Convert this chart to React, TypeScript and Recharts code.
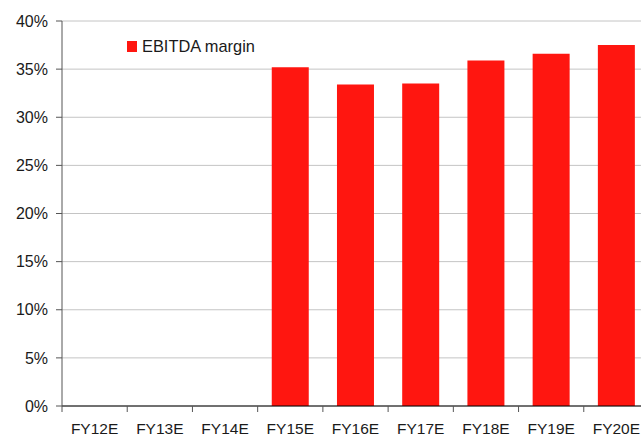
import { BarChart, Bar, XAxis, YAxis, CartesianGrid } from "recharts";

const years = ["FY12E", "FY13E", "FY14E", "FY15E", "FY16E", "FY17E", "FY18E", "FY19E", "FY20E"];
const ebitdaMargin: (number | null)[] = [null, null, null, 35.2, 33.4, 33.5, 35.9, 36.6, 37.5];
const yTicks = [0, 5, 10, 15, 20, 25, 30, 35, 40];

const data = years.map((year, i) => ({ year, margin: ebitdaMargin[i] }));

const FONT = "'Liberation Sans', Arial, sans-serif";
const TEXT = "#1a1a1a";
const RED = "#ff1610";

// x ticks sit at category boundaries, labels at the centre
function XTick(props: any) {
  const { x = 0, y = 0, payload } = props;
  const half = payload?.offset || 32.6;
  const axisY = y - 17;
  return (
    <g>
      <line x1={x - half} x2={x - half} y1={axisY} y2={axisY + 6} stroke="#555" />
      <text x={x} y={y} dy="0.71em" textAnchor="middle" fontSize={15.5} fontFamily={FONT} fill={TEXT}>
        {payload?.value}
      </text>
    </g>
  );
}

function LegendBox() {
  return (
    <div
      style={{
        position: "absolute",
        top: 37,
        left: 127,
        display: "flex",
        alignItems: "center",
        fontFamily: FONT,
        fontSize: 16.4,
        color: TEXT,
      }}
    >
      <span style={{ width: 10, height: 11, background: RED, display: "inline-block", marginRight: 5 }} />
      <span>EBITDA margin</span>
    </div>
  );
}

export default function App() {
  return (
    <div style={{ position: "absolute", left: 0, top: 0, width: 641, height: 434, overflow: "hidden", background: "#fff" }}>
      <BarChart
        width={660}
        height={450}
        data={data}
        margin={{ top: 21, right: 11, left: 0, bottom: 0 }}
        barCategoryGap="21.6%"
      >
        <CartesianGrid horizontal vertical={false} stroke="#c4c4c4" />
        <XAxis
          dataKey="year"
          height={44}
          tickLine={false}
          tickSize={6}
          tickMargin={11}
          axisLine={{ stroke: "#000" }}
          tick={<XTick />}
          interval={0}
        />
        <YAxis
          width={62}
          domain={[0, 40]}
          ticks={yTicks}
          interval={0}
          tickFormatter={(v: number) => `${v}%`}
          tickSize={6}
          tickMargin={8}
          axisLine={{ stroke: "#555" }}
          tickLine={{ stroke: "#555" }}
          tick={{ fontSize: 16, fontFamily: FONT, fill: TEXT }}
        />
        <Bar dataKey="margin" name="EBITDA margin" fill={RED} isAnimationActive={false} />
      </BarChart>
      <LegendBox />
    </div>
  );
}
